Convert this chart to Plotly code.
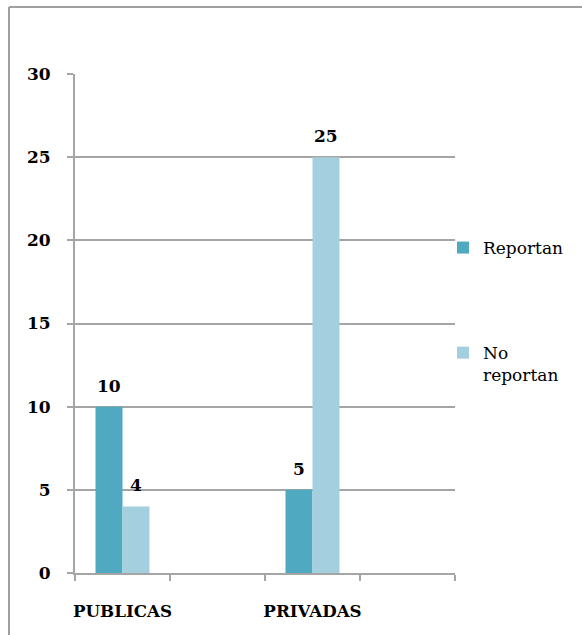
import plotly.graph_objects as go

categories = ["PUBLICAS", "PRIVADAS"]
cat_pos = [0, 2]          # positions among 4 slots (two empty slots)
series_names = ["Reportan", "No<br>reportan"]
reportan = [10, 5]
no_reportan = [4, 25]
colors = ["#4EA9C1", "#A4CFDE"]

W = 0.284  # bar width in axis units
GRID = "#A5A5A5"
SERIF = "DejaVu Serif"

FW, FH = 582, 635
L, T = 75, 74
R = FW - 455
B = FH - 573
pw, ph = FW - L - R, FH - T - B

fig = go.Figure()
for i, (name, vals, col) in enumerate(zip(series_names, [reportan, no_reportan], colors)):
    fig.add_trace(go.Bar(
        x=cat_pos, y=vals, name=name, marker=dict(color=col, line=dict(width=0)),
        width=W, offset=(-W if i == 0 else 0), legendgroup=f"g{i}",
    ))
    for p, v in zip(cat_pos, vals):
        fig.add_annotation(
            x=p + (-W / 2 if i == 0 else W / 2), y=v, text=f"<b>{v}</b>",
            showarrow=False, yanchor="middle", yshift=21,
            font=dict(family=SERIF, size=17, color="black"),
        )

bx = (9 - L) / pw
by = (FH - B - 7) / ph
fig.add_shape(type="line", xref="paper", yref="paper", x0=bx, x1=bx, y0=-0.3, y1=by,
              line=dict(color="#A0A0A0", width=2))
fig.add_shape(type="line", xref="paper", yref="paper", x0=bx, x1=1.5, y0=by, y1=by,
              line=dict(color="#A0A0A0", width=2))

fig.update_layout(
    width=FW, height=FH,
    margin=dict(l=L, r=R, t=T, b=B),
    paper_bgcolor="white", plot_bgcolor="white",
    barmode="overlay",
    showlegend=True,
    legend=dict(
        x=(443 - L) / pw, xanchor="left", y=(FH - B - 230) / ph, yanchor="top",
        traceorder="grouped", tracegroupgap=80, valign="top",
        font=dict(family=SERIF, size=17, color="black"),
        bgcolor="rgba(0,0,0,0)", itemwidth=30,
    ),
    xaxis=dict(
        range=[-0.5, 3.5], tickmode="array", tickvals=cat_pos, ticktext=categories,
        ticks="", showgrid=False, zeroline=False,
        showline=True, linecolor=GRID, linewidth=2,
        tickfont=dict(family=SERIF, size=16.7, color="black", weight="bold"),
        ticklabelstandoff=22,
        minor=dict(tickmode="linear", tick0=-0.5, dtick=1, ticks="outside",
                   ticklen=6, tickwidth=2, tickcolor=GRID, showgrid=False),
    ),
    yaxis=dict(
        range=[0, 30], dtick=5, tick0=0, showgrid=True, gridcolor=GRID, gridwidth=2,
        zeroline=False, showline=True, linecolor=GRID, linewidth=2,
        ticks="outside", ticklen=6, tickwidth=2, tickcolor=GRID,
        tickfont=dict(family=SERIF, size=17, color="black", weight="bold"),
        ticklabelstandoff=13,
    ),
)

fig.write_html("out.html", config={"displayModeBar": False},
               post_script="document.body.style.margin='0';document.body.style.overflow='hidden';")
